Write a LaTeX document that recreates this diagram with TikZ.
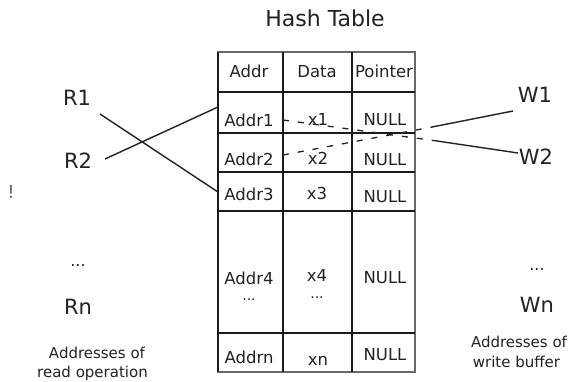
\documentclass[tikz,border=0pt]{standalone}
\usepackage{fontspec}
\setmainfont{DejaVu Sans}
\definecolor{ink}{HTML}{222222}
\definecolor{rule}{HTML}{1A1A1A}
\definecolor{frame}{HTML}{6A6A6A}
\begin{document}
\begin{tikzpicture}[x=1pt,y=-1pt,
  txt/.style={inner sep=0pt, anchor=base, text=ink},
  title/.style={txt, font=\fontsize{22}{22}\selectfont},
  big/.style={txt, font=\fontsize{21}{21}\selectfont},
  cell/.style={txt, font=\fontsize{16.5}{16.5}\selectfont},
  capt/.style={txt, font=\fontsize{15}{15}\selectfont},
  dots/.style={txt, font=\fontsize{16}{16}\selectfont},
  tdots/.style={txt, font=\fontsize{14}{14}\selectfont},
  grid/.style={line width=1.3pt, draw=rule},
  link/.style={line width=1.4pt, draw=ink},
  dlink/.style={line width=1.3pt, draw=ink, dash pattern=on 6pt off 9pt}]
\useasboundingbox (0,0) rectangle (570,381);
\fill[white] (0,0) rectangle (570,381);

% title
\node[title] (title) at (325,26) {Hash Table};

% table grid
\draw[line width=1.3pt, draw=frame] (218,52) rectangle (415,372);
\draw[grid] (218,52) -- (218,372);
\draw[grid] (283,52) -- (283,372) (352,52) -- (352,372);
\foreach \yy in {92,133,172,211,333} \draw[grid] (218,\yy) -- (415,\yy);

% header
\node[cell] (hA) at (249,77) {Addr};
\node[cell] (hD) at (317,77) {Data};
\node[cell] (hP) at (384,77) {Pointer};
% row 1
\node[cell] (a1) at (249,126) {Addr1};
\node[cell] (d1) at (318,125) {x1};
\node[cell] (p1) at (385,125) {NULL};
% row 2
\node[cell] (a2) at (249,165) {Addr2};
\node[cell] (d2) at (318,164) {x2};
\node[cell] (p2) at (385,165) {NULL};
% row 3
\node[cell] (a3) at (249,200) {Addr3};
\node[cell] (d3) at (317,199) {x3};
\node[cell] (p3) at (385,202) {NULL};
% row 4
\node[cell] (a4) at (249,284) {Addr4};
\node[tdots] (a4d) at (249,300) {...};
\node[cell] (d4) at (317,281) {x4};
\node[tdots] (d4d) at (317,298) {...};
\node[cell] (p4) at (385,283) {NULL};
% row n
\node[cell] (an) at (249,363) {Addrn};
\node[cell] (dn) at (318,365) {xn};
\node[cell] (pn) at (385,360) {NULL};

% left side
\node[big] (R1) at (77,105) {R1};
\node[big] (R2) at (78,168) {R2};
\node[txt, text=ink!70, font=\fontsize{18}{18}\selectfont] (bang) at (11,198) {!};
\node[dots] (Rdots) at (78,266) {...};
\node[big] (Rn) at (78,314) {Rn};
\node[capt] (Lc1) at (97,358) {Addresses of};
\node[capt] (Lc2) at (92.5,377) {read operation};

% right side
\node[big] (W1) at (535,102) {W1};
\node[big] (W2) at (536,164) {W2};
\node[dots] (Wdots) at (537,270) {...};
\node[big] (Wn) at (537,312) {Wn};
\node[capt] (Rc1) at (519,347) {Addresses of};
\node[capt] (Rc2) at (516.5,367) {write buffer};

% connector end points
\coordinate (r1s) at (100,114);
\coordinate (r1e) at (218,192);
\coordinate (r2s) at (105,159);
\coordinate (r2e) at (218,107);
\coordinate (w1s) at (513,111);
\coordinate (w1e) at (432,127);
\coordinate (w2s) at (518,153);
\coordinate (w2e) at (437,141);
\coordinate (x1s) at (283,120);
\coordinate (x2s) at (283,155);

\draw[link] (r1s) -- (r1e);
\draw[link] (r2s) -- (r2e);
\draw[link] (w1s) -- (w1e);
\draw[link] (w2s) -- (w2e);
\draw[dlink] (x1s) -- (w2e);
\draw[dlink] (x2s) -- (w1e);
\end{tikzpicture}
\end{document}
